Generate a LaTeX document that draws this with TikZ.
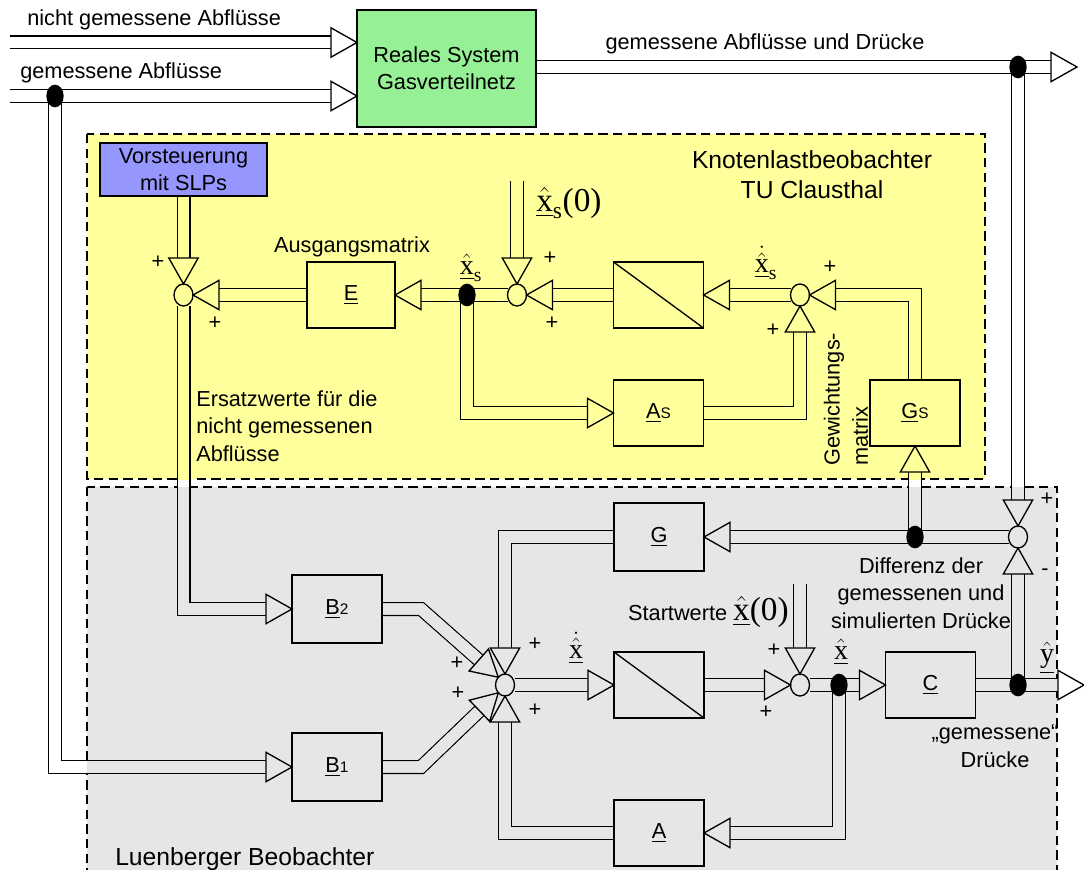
\RequirePackage{fix-cm}
\documentclass[tikz,border=0pt]{standalone}
\usepackage{amsmath}
\usepackage{fontspec}
\setmainfont{Liberation Sans}
\newfontfamily\tnr{Liberation Serif}
\usetikzlibrary{calc,shapes.geometric}
\pgfdeclarelayer{bgl}
\pgfdeclarelayer{cnl}
\pgfsetlayers{bgl,cnl,main}
\definecolor{ylw}{RGB}{255,255,155}
\definecolor{gry}{RGB}{230,230,230}
\definecolor{grn}{RGB}{150,240,150}
\definecolor{blu}{RGB}{150,150,255}
\newcommand\labfont{\fontsize{16.3}{20.5}\selectfont}
\newcommand\titfont{\fontsize{18.5}{22.5}\selectfont}
\newcommand\mfont{\tnr\fontsize{21}{24}\selectfont}
\newcommand\mfontL{\tnr\fontsize{25}{29}\selectfont}
\newcommand\smallsub[1]{{\fontsize{11.5}{12}\selectfont #1}}
\tikzset{
  box/.style={draw, line width=1pt, inner sep=0pt, outer sep=0pt, minimum width=67.5pt, minimum height=49.5pt, font=\labfont},
  sumc/.style={draw, ellipse, line width=1pt, inner sep=0pt, outer sep=0pt, minimum width=14.25pt, minimum height=16.5pt},
  dotc/.style={ellipse, fill=black, inner sep=0pt, outer sep=0pt, minimum width=13pt, minimum height=17pt},
  dbl/.style={draw=black, line width=1pt, double=white, double distance=8.5pt, line join=miter},
  tri/.style={draw, line width=1pt, line join=miter},
  lab/.style={inner sep=0pt, font=\labfont},
  region/.style={dash pattern=on 7pt off 4pt, line width=1.1pt},
}
\newcommand\tri[2]{\draw[tri] (#1) -- ($(#1)!19.5pt!(#2)!11pt!90:(#1)$) -- ($(#1)!19.5pt!(#2)!11pt!-90:(#1)$) -- cycle;}
\newcommand\allconns{%
\path[cn] (i1) -- ($(i1 -| real.west)+(-26,0)$);
\path[cn] (i2) -- ($(i2 -| real.west)+(-26,0)$);
\path[cn] (d1.center) -- (d1.center |- B1.center) -- ($(B1.west)+(-26,0)$);
\path[cn] (d2.center -| real.east) -- ($(o1)+(-26,0)$);
\path[cn] (d2.center) -- ($(s4.north)+(0,-26)$);
\path[cn] (vor.south) -- ($(s1.north)+(0,-26)$);
\path[cn] (s1.south) -- (s1.center |- B2.center) -- ($(B2.west)+(-26,0)$);
\path[cn] (E.west) -- ($(s1.east)+(26,0)$);
\path[cn] (s2.west) -- ($(E.east)+(26,0)$);
\path[cn] (d3.center) -- (d3.center |- As.center) -- ($(As.west)+(-26,0)$);
\path[cn] (I1.west) -- ($(s2.east)+(26,0)$);
\path[cn] (s3.west) -- ($(I1.east)+(26,0)$);
\path[cn] (As.east) -- (As.center -| s3.center) -- ($(s3.south)+(0,26)$);
\path[cn] (Gs.north) -- (Gs.center |- s3.center) -- ($(s3.east)+(26,0)$);
\path[cn] (x0s) -- ($(s2.north)+(0,-26)$);
\path[cn] (d4.center) -- ($(Gs.south)+(0,26)$);
\path[cn] (s4.west) -- ($(G.east)+(26,0)$);
\path[cn] (G.west) -- (G.center -| s6.center) -- ($(s6.north)+(0,-26)$);
\path[cn] (B2.east) -- (b2k) -- ($(s6.north west)!19.5pt!(b2k)$);
\path[cn] (B1.east) -- (b1k) -- ($(s6.south west)!19.5pt!(b1k)$);
\path[cn] (s6.east) -- ($(I2.west)+(-26,0)$);
\path[cn] (I2.east) -- ($(s5.west)+(-26,0)$);
\path[cn] (x0) -- ($(s5.north)+(0,-26)$);
\path[cn] (s5.east) -- ($(C.west)+(-26,0)$);
\path[cn] (d5.center) -- (d5.center |- A.center) -- ($(A.east)+(26,0)$);
\path[cn] (A.west) -- (A.center -| s6.center) -- ($(s6.south)+(0,26)$);
\path[cn] (C.east) -- ($(o2)+(-26,0)$);
\path[cn] (d6.center) -- ($(s4.south)+(0,26)$);
}
\begin{document}
\begin{tikzpicture}[x=0.75pt,y=-0.75pt]
\useasboundingbox (0,0) rectangle (1084,870);
\begin{pgfonlayer}{bgl}
\fill[white] (0,0) rectangle (1084,870);
\filldraw[fill=ylw, region] (87,134) rectangle (985,479);
\filldraw[fill=gry, region] (87,487) rectangle (1057,885);
\end{pgfonlayer}
% blocks
\node[box, fill=grn, minimum width=134.25pt, minimum height=87.75pt, align=center] (real) at (446.5,68.5) {Reales System\\Gasverteilnetz};
\node[box, fill=blu, minimum width=125.25pt, minimum height=39.75pt, align=center] (vor) at (183.5,169.5) {Vorsteuerung\\mit SLPs};
\node[box, minimum width=66pt] (E) at (351,295) {\underline{E}};
\node[box] (I1) at (658.5,295) {};
\node[box] (As) at (658.5,413) {\underline{A}\smallsub{S}};
\node[box] (Gs) at (915,413) {\underline{G}\smallsub{S}};
\node[box, minimum height=51pt] (G) at (659,537) {\underline{G}};
\node[box, minimum height=51pt] (B2) at (337,609) {\underline{B}\smallsub{2}};
\node[box, minimum height=51pt] (B1) at (337,767) {\underline{B}\smallsub{1}};
\node[box] (I2) at (659,685) {};
\node[box] (C) at (930.5,685) {\underline{C}};
\node[box] (A) at (659,833) {\underline{A}};
\draw[line width=1pt] (I1.north west) -- (I1.south east);
\draw[line width=1pt] (I2.north west) -- (I2.south east);
% summing points
\node[sumc, fill=ylw] (s1) at (183.5,295) {};
\node[sumc, fill=ylw] (s2) at (517,295) {};
\node[sumc, fill=ylw] (s3) at (800,295) {};
\node[sumc, fill=gry] (s4) at (1018,537) {};
\node[sumc, fill=gry] (s5) at (800,685) {};
\node[sumc, fill=gry] (s6) at (505,685) {};
% branch dots
\node[dotc] (d1) at (55,96) {};
\node[dotc] (d2) at (1018,67) {};
\node[dotc] (d3) at (467,295) {};
\node[dotc] (d4) at (915,537) {};
\node[dotc] (d5) at (839,685) {};
\node[dotc] (d6) at (1018,685) {};
% free ends and bends
\coordinate (i1) at (10,42.5);
\coordinate (i2) at (10,96);
\coordinate (o1) at (1077,67);
\coordinate (o2) at (1084,685);
\coordinate (x0s) at (517,181);
\coordinate (x0) at (800,584);
\coordinate (b2k) at (421,609);
\coordinate (b1k) at (421,767);
% connectors
\begin{pgfonlayer}{cnl}
\begin{scope}[cn/.style={dbl}]
\allconns
\end{scope}
\begin{scope}[cn/.style={draw=ylw, line width=8.5pt, line join=miter}]
\clip (87,134) rectangle (985,479);
\allconns
\end{scope}
\begin{scope}[cn/.style={draw=gry, line width=8.5pt, line join=miter}]
\clip (87,487) rectangle (1057,885);
\allconns
\end{scope}
\end{pgfonlayer}
% arrowheads
\tri{i1 -| real.west}{i1}
\tri{i2 -| real.west}{i2}
\tri{B1.west}{d1.center |- B1.center}
\tri{o1}{d2.center}
\tri{s4.north}{d2.center}
\tri{s1.north}{vor.south}
\tri{B2.west}{s1.center |- B2.center}
\tri{s1.east}{E.west}
\tri{E.east}{s2.west}
\tri{As.west}{d3.center |- As.center}
\tri{s2.east}{I1.west}
\tri{I1.east}{s3.west}
\tri{s3.south}{As.center -| s3.center}
\tri{s3.east}{Gs.center |- s3.center}
\tri{s2.north}{x0s}
\tri{Gs.south}{d4.center}
\tri{G.east}{s4.west}
\tri{s6.north}{G.center -| s6.center}
\tri{s6.north west}{b2k}
\tri{s6.south west}{b1k}
\tri{I2.west}{s6.east}
\tri{s5.west}{I2.east}
\tri{s5.north}{x0}
\tri{C.west}{s5.east}
\tri{A.east}{d5.center |- A.center}
\tri{s6.south}{A.center -| s6.center}
\tri{o2}{C.east}
\tri{s4.south}{d6.center}
% texts
\node[lab, anchor=west] (t1) at (27,20) {nicht gemessene Abflüsse};
\node[lab, anchor=west] (t2) at (20,73) {gemessene Abflüsse};
\node[lab] (t3) at (765,44) {gemessene Abflüsse und Drücke};
\node[lab, font=\titfont, align=center] (t4) at (812,175) {Knotenlastbeobachter\\TU Clausthal};
\node[lab] (t5) at (352,247) {Ausgangsmatrix};
\node[lab, align=left, anchor=west] (t6) at (196,426) {Ersatzwerte für die\\nicht gemessenen\\Abflüsse};
\node[lab, rotate=90, anchor=west] (t7) at (834,466) {Gewichtungs-};
\node[lab, rotate=90, anchor=west] (t8) at (860,466) {matrix};
\node[lab, align=center] (t9) at (921,593) {Differenz der\\gemessenen und\\simulierten Drücke};
\node[lab, align=center] (t10) at (995,746) {„gemessene“\\Drücke};
\node[lab, font=\titfont, anchor=base west] (t11) at (115,865) {Luenberger Beobachter};
\node[lab, anchor=base east] (t12) at (789,620) {Startwerte {\tnr\fontsize{25}{29}\selectfont $\underline{\hat{\text{x}}}$(0)}};
% math labels
\node[lab, font=\mfont] (m1) at (471,268) {$\underline{\hat{\text{x}}}_{\text{s}}$};
\node[lab, font=\mfontL, anchor=west] (m2) at (536,203) {$\underline{\hat{\text{x}}}_{\text{s}}$(0)};
\node[lab, font=\mfont] (m3) at (766,263) {$\underline{\dot{\hat{\text{x}}}}_{\text{s}}$};
\node[lab, font=\mfont] (m4) at (576,648) {$\underline{\dot{\hat{\text{x}}}}$};
\node[lab, font=\mfont] (m5) at (841,652) {$\underline{\hat{\text{x}}}$};
\node[lab, font=\mfont] (m6) at (1047,658) {$\underline{\hat{\text{y}}}$};
% signs
\node[lab] (p1) at (158,262) {+};
\node[lab] (p2) at (215,323) {+};
\node[lab] (p3) at (550,258) {+};
\node[lab] (p4) at (552,323) {+};
\node[lab] (p5) at (830,267) {+};
\node[lab] (p6) at (773,330) {+};
\node[lab] (p7) at (1047,499) {+};
\node[lab] (p8) at (1045,572) {-};
\node[lab] (p9) at (774,650) {+};
\node[lab] (p10) at (766,712) {+};
\node[lab] (p11) at (535,644) {+};
\node[lab] (p12) at (535,710) {+};
\node[lab] (p13) at (457,663) {+};
\node[lab] (p14) at (458,693) {+};
\end{tikzpicture}
\end{document}
